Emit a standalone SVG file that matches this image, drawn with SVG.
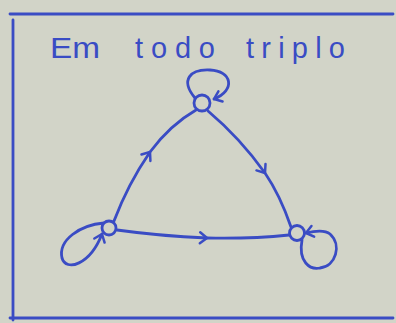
<svg xmlns="http://www.w3.org/2000/svg" width="396" height="323" viewBox="0 0 396 323">
<style>
.ink{fill:none;stroke:#3a4cc4;stroke-width:2.8;stroke-linecap:round;stroke-linejoin:round}
.node{fill:#d2d4c8;stroke:#3a4cc4;stroke-width:2.8}
.title{font-family:"Liberation Sans","DejaVu Sans",sans-serif;font-size:29px;fill:#3a4cc4}
</style>
<defs>
<marker id="arr" markerUnits="userSpaceOnUse" markerWidth="16" markerHeight="16" viewBox="-9 -8 12 16" refX="0" refY="0" orient="auto">
<path d="M-7,-5.5 L0,0 L-7,5.5" fill="none" stroke="#3a4cc4" stroke-width="2.5" stroke-linecap="round" stroke-linejoin="round"/>
</marker>
</defs>
<rect width="396" height="323" fill="#d2d4c8"/>
<g id="frame" class="ink">
<path d="M10,14 L393,14"/>
<path d="M13,20 L13,320"/>
<path d="M10,318 L393,318"/>
</g>
<text class="title" y="58"><tspan x="50" textLength="50" lengthAdjust="spacingAndGlyphs">Em</tspan><tspan x="135" textLength="80" lengthAdjust="spacing">todo</tspan><tspan x="246" textLength="99" lengthAdjust="spacing">triplo</tspan></text>
<g id="connectors" class="ink">
<path d="M114,221 Q128,184 150,152 Q170,125 196,110" marker-mid="url(#arr)"/>
<path d="M208,111 Q240,138 265,173 Q280,195 291,227" marker-mid="url(#arr)"/>
<path d="M117,230 Q160,236 207,238 Q250,239 289,235" marker-mid="url(#arr)"/>
<path d="M195,98 C180,80 190,69 210,70 C232,71 236,90 214,99" marker-end="url(#arr)"/>
<path d="M104,223 C80,225 58,240 62,258 C66,272 90,265 102,234" marker-end="url(#arr)"/>
<path d="M302,240 C298,262 310,270 320,268 C336,266 342,245 330,234 C324,229 314,231 306,233" marker-end="url(#arr)"/>
</g>
<g id="n-top"><circle class="node" cx="202" cy="103" r="8"/></g>
<g id="n-left"><circle class="node" cx="109" cy="228" r="7"/></g>
<g id="n-right"><circle class="node" cx="297" cy="233" r="7.5"/></g>
</svg>
